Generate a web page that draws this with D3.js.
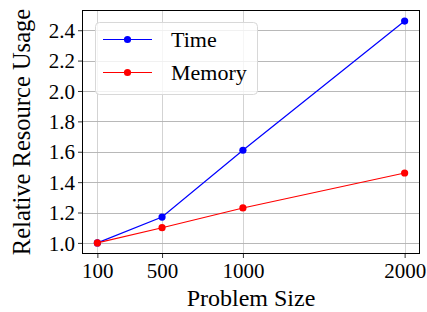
<!DOCTYPE html>
<html><head><meta charset="utf-8">
<script src="https://cdn.jsdelivr.net/npm/d3@7"></script>
<style>body{margin:0;background:#fff}svg{display:block}</style>
</head><body>
<script>
const sizes = [100, 500, 1000, 2000];
const timeVals = [1.0, 1.17, 1.61, 2.46];
const memoryVals = [1.0, 1.10, 1.23, 1.46];
const xTicks = [100, 500, 1000, 2000];
const yTicks = [1.0, 1.2, 1.4, 1.6, 1.8, 2.0, 2.2, 2.4];
const seriesNames = ["Time", "Memory"];
const seriesColors = ["#0000ff", "#ff0000"];

const W = 427, H = 312;
const m = {left: 82, right: 7, top: 10, bottom: 58};
const font = "'Liberation Serif', 'Times New Roman', serif";

const svg = d3.select("body").append("svg").attr("width", W).attr("height", H);

const x = d3.scaleLinear().domain([5, 2095]).range([m.left, W - m.right]);
const y = d3.scaleLinear().domain([0.927, 2.533]).range([H - m.bottom, m.top]);

const g = svg.append("g");
// grid
g.selectAll(".gx").data(xTicks).enter().append("line")
  .attr("x1", d => Math.round(x(d)) + 0.5).attr("x2", d => Math.round(x(d)) + 0.5)
  .attr("y1", m.top).attr("y2", H - m.bottom)
  .attr("stroke", "#b0b0b0").attr("stroke-width", 0.8).attr("stroke-opacity", 0.7);
g.selectAll(".gy").data(yTicks).enter().append("line")
  .attr("y1", d => Math.round(y(d)) + 0.5).attr("y2", d => Math.round(y(d)) + 0.5)
  .attr("x1", m.left).attr("x2", W - m.right)
  .attr("stroke", "#b0b0b0").attr("stroke-width", 0.9);

// axes
const xAxis = svg.append("g").attr("transform", `translate(0,${H - m.bottom})`)
  .call(d3.axisBottom(x).tickValues(xTicks).tickFormat(d3.format("d")).tickSize(4).tickPadding(4));
const yAxis = svg.append("g").attr("transform", `translate(${m.left},0)`)
  .call(d3.axisLeft(y).tickValues(yTicks).tickFormat(d3.format(".1f")).tickSize(4).tickPadding(3));
[xAxis, yAxis].forEach(a => {
  a.select(".domain").remove();
  a.selectAll("text").attr("font-family", font).attr("font-size", 21).attr("fill", "#000");
  a.selectAll("line").attr("stroke", "#000").attr("stroke-width", 0.8);
});
xAxis.selectAll("text").attr("dy", "0.75em");
yAxis.selectAll("text").attr("dy", "0.34em");

// frame
svg.append("rect").attr("x", m.left + 0.5).attr("y", m.top + 0.5)
  .attr("width", W - m.left - m.right - 1).attr("height", H - m.top - m.bottom - 1)
  .attr("fill", "none").attr("stroke", "#000").attr("stroke-width", 1);

// lines
const series = [timeVals, memoryVals];
const line = d3.line().x((d, i) => x(sizes[i])).y(d => y(d));
series.forEach((vals, k) => {
  svg.append("path").datum(vals).attr("d", line)
    .attr("fill", "none").attr("stroke", seriesColors[k]).attr("stroke-width", 1.2);
  svg.selectAll(".pt" + k).data(vals).enter().append("circle")
    .attr("cx", (d, i) => x(sizes[i])).attr("cy", d => y(d)).attr("r", 3.6)
    .attr("fill", seriesColors[k]);
});

// legend
const lg = svg.append("g");
lg.append("rect").attr("x", 95.5).attr("y", 22.5).attr("width", 162).attr("height", 72).attr("rx", 4)
  .attr("fill", "#fff").attr("fill-opacity", 0.8).attr("stroke", "#d8d8d8").attr("stroke-width", 1);
seriesNames.forEach((name, k) => {
  const ly = 39.5 + k * 33;
  lg.append("line").attr("x1", 103).attr("x2", 152).attr("y1", ly).attr("y2", ly)
    .attr("stroke", seriesColors[k]).attr("stroke-width", 1.2);
  lg.append("circle").attr("cx", 127.5).attr("cy", ly).attr("r", 3.6).attr("fill", seriesColors[k]);
  lg.append("text").attr("x", 171).attr("y", ly).attr("dy", "0.35em")
    .attr("font-family", font).attr("font-size", 22).text(name);
});

// axis labels
svg.append("text").attr("x", (m.left + W - m.right) / 2 + 0).attr("y", 306)
  .attr("text-anchor", "middle").attr("font-family", font).attr("font-size", 24).text("Problem Size");
svg.append("text").attr("transform", `translate(30,${(m.top + H - m.bottom) / 2}) rotate(-90)`)
  .attr("text-anchor", "middle").attr("font-family", font).attr("font-size", 24.5).text("Relative Resource Usage");
</script>
</body></html>
